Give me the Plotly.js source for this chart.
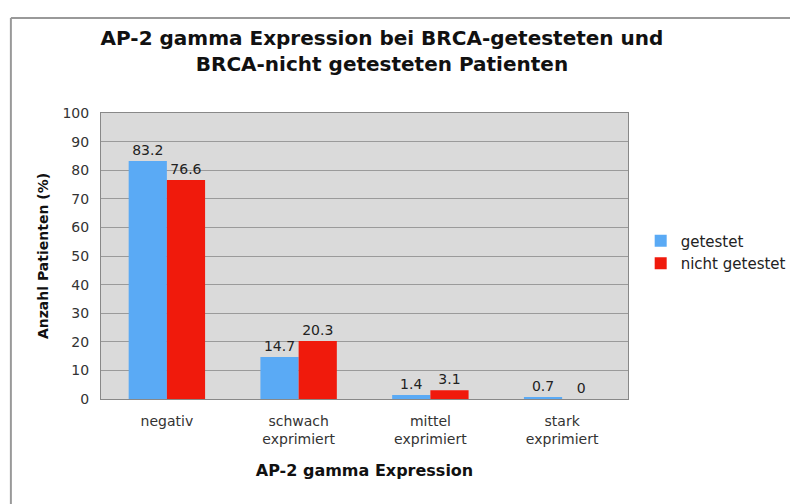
<!DOCTYPE html>
<html><head><meta charset="utf-8">
<script src="https://cdn.plot.ly/plotly-3.0.1.min.js"></script>
<style>html,body{margin:0;padding:0;background:#fff;}#c{width:790px;height:504px;}</style>
</head><body><div id="c"></div>
<script>
const categories = ['negativ', 'schwach<br>exprimiert', 'mittel<br>exprimiert', 'stark<br>exprimiert'];
const getestet = [83.2, 14.7, 1.4, 0.7];
const nichtGetestet = [76.6, 20.3, 3.1, 0];
const yTicks = [0,10,20,30,40,50,60,70,80,90,100];

const font = 'DejaVu Sans, Verdana, sans-serif';
const traces = [
  {type:'bar', name:'getestet', x:categories, y:getestet, marker:{color:'#5aaaf5'},
   text:getestet.map(String), textposition:'outside', cliponaxis:false,
   textfont:{family:font,size:14,color:'#222'}},
  {type:'bar', name:'nicht getestet', x:categories, y:nichtGetestet, marker:{color:'#f01a0c'},
   text:nichtGetestet.map(String), textposition:'outside', cliponaxis:false,
   textfont:{family:font,size:14,color:'#222'}}
];
const layout = {
  width:790, height:504,
  margin:{l:101, r:162, t:113, b:105},
  paper_bgcolor:'#ffffff', plot_bgcolor:'#dadada',
  font:{family:font, size:14, color:'#222'},
  title:{text:'<b>AP-2 gamma Expression bei BRCA-getesteten und<br>BRCA-nicht getesteten Patienten</b>',
    font:{family:'DejaVu Sans, sans-serif', size:20, color:'#111'},
    x:0.4835, xref:'container', y:0.911, yanchor:'top'},
  barmode:'group', bargap:0.42, bargroupgap:0,
  xaxis:{showline:true, mirror:true, linecolor:'#888', linewidth:1, ticks:'', ticklabelstandoff:9,
    tickfont:{family:font,size:14,color:'#333'},
    title:{text:'<b>AP-2 gamma Expression</b>', font:{family:font,size:16,color:'#111'}, standoff:18}},
  yaxis:{range:[0,100], tickvals:yTicks, showline:true, mirror:true, linecolor:'#888', linewidth:1,
    gridcolor:'#9a9a9a', gridwidth:1, zeroline:false, ticks:'', ticklabelstandoff:8,
    tickfont:{family:font,size:14,color:'#333'},
    title:{text:'<b>Anzahl Patienten (%)</b>', font:{family:font,size:14,color:'#111'}, standoff:10}},
  legend:{xref:'container', yref:'container', x:0.811, y:0.5, xanchor:'left', yanchor:'middle',
    font:{family:font,size:15,color:'#222'},
    bgcolor:'rgba(0,0,0,0)', itemwidth:30, tracegroupgap:4},
  showlegend:true,
  shapes:[
    {type:'line', xref:'paper', yref:'paper', x0:-0.171, x1:-0.171, y0:1.332, y1:-0.37, line:{color:'#999', width:2}},
    {type:'line', xref:'paper', yref:'paper', x0:-0.171, x1:1.31, y0:1.332, y1:1.332, line:{color:'#999', width:2}}
  ]
};
Plotly.newPlot('c', traces, layout, {displayModeBar:false, staticPlot:true});
</script></body></html>
